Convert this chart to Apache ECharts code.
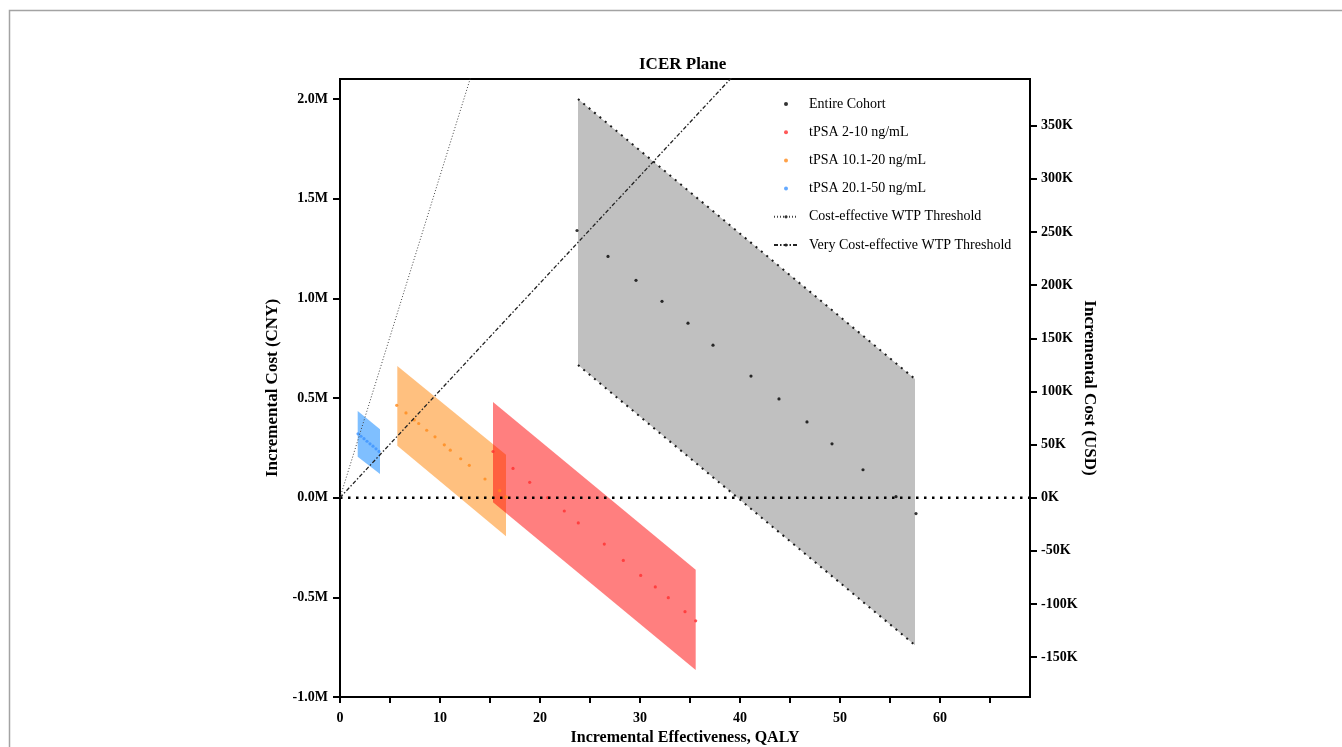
<!DOCTYPE html>
<html>
<head>
<meta charset="utf-8">
<title>ICER Plane</title>
<script src="https://cdn.jsdelivr.net/npm/echarts@6/dist/echarts.min.js"></script>
<style>
html, body { margin: 0; padding: 0; background: #fff; }
#icer { width: 1342px; height: 747px; }
</style>
</head>
<body>
<div id="icer"></div>
<script>
// point estimates: effectiveness (QALY) / incremental cost (CNY)
const cohortQaly = [23.7, 26.8, 29.6, 32.2, 34.8, 37.3, 41.1, 43.9, 46.7, 49.2, 52.3, 55.6, 57.6];
const cohortCost = [1340000, 1210000, 1090000, 985000, 875000, 765000, 610000, 495000, 380000, 270000, 140000, 5000, -80000];

const psaLowQaly = [15.3, 17.3, 18.97, 20.77, 22.43, 23.83, 26.43, 28.33, 30.07, 31.53, 32.83, 34.5, 35.57];
const psaLowCost = [231500, 146700, 76700, 0, -67000, -127000, -233000, -315000, -390000, -448000, -502000, -572000, -618000];

const psaMidQaly = [5.67, 6.6, 7.43, 7.87, 8.67, 9.5, 10.43, 11.03, 12.07, 12.93, 14.5, 15.97, 16.63];
const psaMidCost = [463000, 425000, 390000, 372000, 338000, 305000, 265000, 238000, 195000, 162000, 93500, 35000, 3500];

const psaHighQaly = [1.8, 2.1, 2.4, 2.7, 3.0, 3.3, 3.6, 3.9];
const psaHighCost = [320000, 308000, 296000, 283000, 270000, 258000, 245000, 232000];

// uncertainty bands: [qaly, cost] at the left and right ends
const cohortUpper = [[23.8, 2000000], [57.5, 595000]];
const cohortLower = [[23.8, 665000], [57.5, -740000]];
const psaLowUpper = [[15.3, 480000], [35.57, -361500]];
const psaLowLower = [[15.3, -23500], [35.57, -865000]];
const psaMidUpper = [[5.73, 660000], [16.6, 215000]];
const psaMidLower = [[5.73, 260000], [16.6, -194000]];
const psaHighUpper = [[1.77, 435000], [4.0, 343500]];
const psaHighLower = [[1.77, 205000], [4.0, 118500]];

// willingness-to-pay thresholds, CNY per QALY
const wtpCostEffective = 161400;
const wtpVeryCostEffective = 53800;
const usdPerCny = 1 / 5.33;

const costTicks = [-1000000, -500000, 0, 500000, 1000000, 1500000, 2000000];
const usdTicks = [-150000, -100000, -50000, 0, 50000, 100000, 150000, 200000, 250000, 300000, 350000];
const qalyLabels = [0, 10, 20, 30, 40, 50, 60];
const qalyTicks = [0, 5, 10, 15, 20, 25, 30, 35, 40, 45, 50, 55, 60, 65];

const xMax = 69;
const yMin = -1000000, yMax = 2100000;

const serif = "'Liberation Serif', 'Times New Roman', serif";

function zip(xs, ys) {
    return xs.map((x, i) => [x, ys[i]]);
}

function band(name, upper, lower, fill) {
    const poly = upper.concat(lower.slice().reverse());
    return {
        name: name,
        type: 'custom',
        data: poly,
        silent: true,
        z: 1,
        renderItem: function (params, api) {
            if (params.dataIndex !== 0) return;
            return {
                type: 'polygon',
                shape: { points: poly.map(p => api.coord(p)) },
                style: { fill: fill }
            };
        }
    };
}

function points(name, xs, ys, color) {
    return {
        name: name,
        type: 'scatter',
        data: zip(xs, ys),
        symbol: 'circle',
        symbolSize: 3.2,
        itemStyle: { color: color },
        z: 3
    };
}

function edge(data) {
    return {
        type: 'line',
        data: data,
        showSymbol: false,
        silent: true,
        lineStyle: { color: '#1a1a1a', width: 2, type: [2, 5] },
        z: 2
    };
}

var myChart = echarts.init(document.getElementById('icer'));

var option = {
    backgroundColor: '#fff',
    animation: false,
    graphic: [{
        type: 'rect',
        shape: { x: 9.5, y: 10.5, width: 1400, height: 800 },
        style: { fill: 'none', stroke: '#a3a3a3', lineWidth: 1.5 },
        silent: true,
        z: -10
    }],
    title: {
        text: 'ICER Plane',
        left: 639,
        top: 56,
        padding: 0,
        textStyle: { fontFamily: serif, fontWeight: 'bold', fontSize: 17, color: '#000' }
    },
    legend: {
        data: ['Entire Cohort', 'tPSA 2-10 ng/mL', 'tPSA 10.1-20 ng/mL', 'tPSA 20.1-50 ng/mL',
               'Cost-effective WTP Threshold', 'Very Cost-effective WTP Threshold'],
        orient: 'vertical',
        left: 773,
        top: 97,
        padding: 0,
        itemWidth: 24,
        itemHeight: 4,
        itemGap: 14.2,
        textStyle: { fontFamily: serif, fontSize: 14, color: '#000', padding: [0, 0, 0, 6] }
    },
    grid: {
        left: 340, right: 312, top: 79, bottom: 50,
        outerBoundsMode: 'none',
        show: true, borderColor: '#000', borderWidth: 2,
        containLabel: false
    },
    xAxis: {
        type: 'value',
        min: 0, max: xMax,
        name: 'Incremental Effectiveness, QALY',
        nameLocation: 'middle',
        nameGap: 33,
        nameMoveOverlap: false,
        nameTextStyle: { fontFamily: serif, fontWeight: 'bold', fontSize: 16, color: '#000' },
        axisLine: { show: true, onZero: false, lineStyle: { color: '#000', width: 2 } },
        axisTick: { show: true, length: 6, customValues: qalyTicks, lineStyle: { color: '#000', width: 2 } },
        axisLabel: { customValues: qalyLabels, fontFamily: serif, fontWeight: 'bold', fontSize: 14, color: '#000', margin: 14 },
        splitLine: { show: false }
    },
    yAxis: [{
        type: 'value',
        position: 'left',
        min: yMin, max: yMax,
        name: 'Incremental Cost (CNY)',
        nameLocation: 'middle',
        nameGap: 59,
        nameRotate: 90,
        nameMoveOverlap: false,
        nameTextStyle: { fontFamily: serif, fontWeight: 'bold', fontSize: 17, color: '#000' },
        axisLine: { show: true, onZero: false, lineStyle: { color: '#000', width: 2 } },
        axisTick: { show: true, length: 7, customValues: costTicks, lineStyle: { color: '#000', width: 2 } },
        axisLabel: {
            customValues: costTicks,
            formatter: v => (v / 1000000).toFixed(1) + 'M',
            fontFamily: serif, fontWeight: 'bold', fontSize: 14, color: '#000', margin: 12
        },
        splitLine: { show: false }
    }, {
        type: 'value',
        position: 'right',
        min: yMin * usdPerCny, max: yMax * usdPerCny,
        name: 'Incremental Cost (USD)',
        nameLocation: 'middle',
        nameGap: 51,
        nameRotate: -90,
        nameMoveOverlap: false,
        nameTextStyle: { fontFamily: serif, fontWeight: 'bold', fontSize: 17, color: '#000' },
        axisLine: { show: true, onZero: false, lineStyle: { color: '#000', width: 2 } },
        axisTick: { show: true, length: 7, customValues: usdTicks, lineStyle: { color: '#000', width: 2 } },
        axisLabel: {
            customValues: usdTicks,
            formatter: v => Math.round(v / 1000) + 'K',
            fontFamily: serif, fontWeight: 'bold', fontSize: 14, color: '#000', margin: 11
        },
        splitLine: { show: false }
    }],
    series: [
        band('cohort band', cohortUpper, cohortLower, '#c0c0c0'),
        edge(cohortUpper),
        edge(cohortLower),
        band('high band', psaHighUpper, psaHighLower, 'rgba(0,128,255,0.5)'),
        band('mid band', psaMidUpper, psaMidLower, 'rgba(255,130,0,0.5)'),
        band('low band', psaLowUpper, psaLowLower, 'rgba(255,0,0,0.5)'),
        points('Entire Cohort', cohortQaly, cohortCost, '#000'),
        points('tPSA 2-10 ng/mL', psaLowQaly, psaLowCost, '#ff3030'),
        points('tPSA 10.1-20 ng/mL', psaMidQaly, psaMidCost, '#ff8a1a'),
        points('tPSA 20.1-50 ng/mL', psaHighQaly, psaHighCost, '#3d94ff'),
        {
            type: 'line',
            data: [[0, 0], [xMax, 0]],
            showSymbol: false,
            silent: true,
            lineStyle: { color: '#000', width: 2.5, type: [2.5, 5.5] },
            z: 4
        },
        {
            name: 'Cost-effective WTP Threshold',
            type: 'line',
            data: [[0, 0], [20, 20 * wtpCostEffective]],
            showSymbol: false,
            symbol: 'circle',
            itemStyle: { color: '#333' },
            lineStyle: { color: '#444', width: 1, type: [1, 2] },
            z: 4
        },
        {
            name: 'Very Cost-effective WTP Threshold',
            type: 'line',
            data: [[0, 0], [45, 45 * wtpVeryCostEffective]],
            showSymbol: false,
            symbol: 'circle',
            itemStyle: { color: '#222' },
            lineStyle: { color: '#222', width: 1.3, type: [4, 2, 1.5, 2] },
            z: 4
        }
    ]
};

option && myChart.setOption(option);
</script>
</body>
</html>
